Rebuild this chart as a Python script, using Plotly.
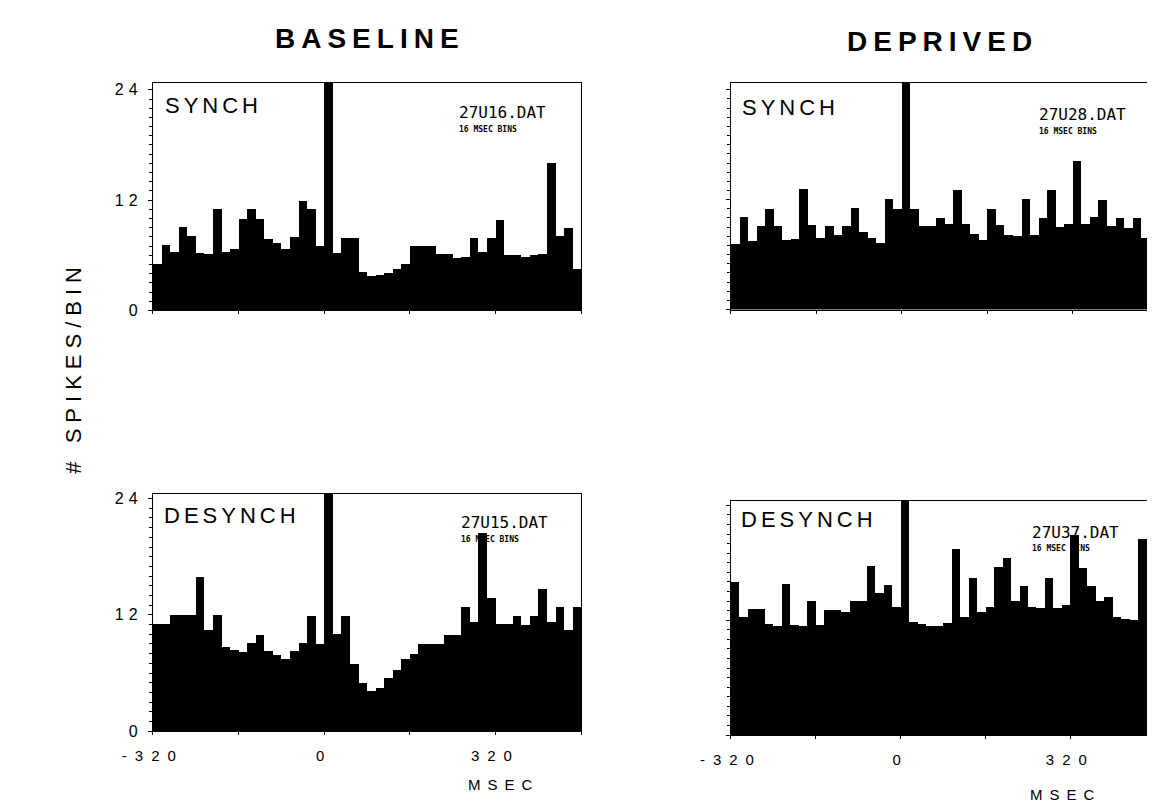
import plotly.graph_objects as go

# ---------------- data ----------------
BIN_WIDTH_MS = 16
BIN_CENTERS_MS = list(range(-312, 480, 16))   # 50 bins of 16 ms, -320 .. 480 ms

BASELINE_SYNCH = [5.1, 7.1, 6.4, 9.1, 8.1, 6.3, 6.2, 11.1, 6.4, 6.7,
                  10.0, 11.0, 10.0, 7.8, 7.3, 6.7, 8.0, 11.9, 11.0, 7.0,
                  30.0, 6.3, 7.9, 7.9, 4.2, 3.8, 3.9, 4.1, 4.5, 5.1,
                  7.0, 7.0, 7.0, 6.1, 6.1, 5.7, 5.8, 7.9, 6.4, 7.9,
                  9.9, 6.0, 6.0, 5.8, 6.0, 6.1, 16.0, 8.1, 9.0, 4.5]

BASELINE_DESYNCH = [11.1, 11.1, 12.0, 12.0, 12.0, 15.9, 10.5, 12.0, 8.7, 8.4,
                    8.2, 9.1, 10.0, 8.3, 7.9, 7.5, 8.3, 9.1, 11.9, 9.0,
                    30.0, 10.1, 11.9, 7.0, 5.0, 4.2, 4.5, 5.5, 6.3, 7.5,
                    8.0, 9.0, 9.0, 9.0, 10.0, 10.0, 12.8, 11.3, 20.5, 13.8,
                    11.1, 11.1, 11.9, 11.0, 11.9, 14.7, 11.3, 12.8, 10.5, 12.8]

DEPRIVED_SYNCH = [7.2, 10.1, 7.5, 9.1, 11.0, 9.1, 7.6, 7.7, 13.2, 9.2,
                  7.8, 9.1, 8.2, 9.1, 11.1, 8.5, 7.8, 7.3, 12.1, 11.0,
                  30.0, 11.0, 9.1, 9.1, 10.0, 9.4, 13.1, 9.3, 8.3, 7.6,
                  11.0, 9.2, 8.2, 8.0, 12.1, 8.2, 10.0, 13.1, 9.0, 9.3,
                  16.2, 9.4, 10.1, 12.0, 9.1, 10.0, 8.9, 10.0, 7.8, 8.2]

DEPRIVED_DESYNCH = [16.0, 12.4, 13.2, 13.2, 11.7, 11.4, 15.8, 11.5, 11.4, 14.1,
                    11.5, 13.1, 13.1, 12.9, 14.0, 14.0, 17.7, 14.9, 15.7, 13.4,
                    30.0, 11.9, 11.7, 11.4, 11.4, 11.8, 19.5, 12.4, 16.5, 12.9,
                    13.4, 17.6, 18.5, 14.0, 15.6, 13.4, 13.3, 16.5, 13.3, 13.6,
                    21.0, 17.5, 15.6, 14.0, 14.5, 12.4, 12.2, 12.1, 20.5, 16.5]

X_TICK_VALUES = [-320, -160, 0, 160, 320, 480]
X_TICK_LABELS = ["-320", "", "0", "", "320", ""]
Y_TICK_VALUES = [0, 12, 24]
Y_TICK_LABELS = ["0", "12", "24"]

COLUMN_TITLES = ["BASELINE", "DEPRIVED"]
PANEL_LABELS = ["SYNCH", "SYNCH", "DESYNCH", "DESYNCH"]
FILE_LABELS = ["27U16.DAT", "27U28.DAT", "27U15.DAT", "27U37.DAT"]
BIN_NOTE = "16 MSEC BINS"
X_TITLE = "MSEC"
Y_TITLE = "# SPIKES/BIN"

# ---------------- layout helpers ----------------
W, H = 1155, 810
SANS = "Liberation Sans, Arial, sans-serif"
MONO = "DejaVu Sans Mono, monospace"


def px(x):
    return x / W


def py(y):
    return 1 - y / H


def spaced(text, sp):
    return f'<span style="letter-spacing:{sp}px">{text}</span>'


# panel boxes in pixels: (left, right, top, bottom, ymax)
PANELS = [
    (117, 557, 73, 304, 24.75),   # baseline synch
    (711, 1150, 73, 303, 24.75),  # deprived synch
    (117, 557, 490, 731, 24.5),   # baseline desynch
    (711, 1147, 497, 735, 24.5),  # deprived desynch
]
SERIES = [BASELINE_SYNCH, DEPRIVED_SYNCH, BASELINE_DESYNCH, DEPRIVED_DESYNCH]

fig = go.Figure()
layout = dict(
    width=W, height=H,
    margin=dict(l=0, r=0, t=0, b=0),
    paper_bgcolor="white", plot_bgcolor="white",
    showlegend=False, bargap=0,
    font=dict(family=SANS, color="black"),
)

for i, (vals, (l, r, t, b, ymax)) in enumerate(zip(SERIES, PANELS)):
    n = "" if i == 0 else str(i + 1)
    fig.add_trace(go.Bar(
        x=BIN_CENTERS_MS, y=vals, width=BIN_WIDTH_MS,
        marker=dict(color="black", line=dict(width=0)),
        xaxis="x" + n, yaxis="y" + n, hoverinfo="x+y",
    ))
    left_col = (i % 2 == 0)
    bottom_row = (i >= 2)
    layout["xaxis" + n] = dict(
        domain=[px(l), px(r)], anchor="y" + n, range=[-320, 480],
        showline=True, linecolor="black", linewidth=1, mirror=True,
        showgrid=False, zeroline=False,
        tickmode="array", tickvals=X_TICK_VALUES,
        ticktext=[spaced(s, 8) if s else "" for s in X_TICK_LABELS],
        showticklabels=bottom_row,
        ticks="outside", ticklen=3, tickcolor="black", tickwidth=1,
        tickfont=dict(family=SANS, size=15, color="black"),
        ticklabelstandoff=8,
    )
    layout["yaxis" + n] = dict(
        domain=[py(b), py(t)], anchor="x" + n, range=[0, ymax],
        showline=True, linecolor="black", linewidth=1, mirror=True,
        showgrid=False, zeroline=False,
        tickmode="array", tickvals=Y_TICK_VALUES,
        ticktext=[spaced(s, 5) for s in Y_TICK_LABELS],
        showticklabels=left_col,
        ticks="outside", ticklen=4, tickcolor="black", tickwidth=1,
        minor=dict(dtick=1, tick0=0, ticks="outside", ticklen=3,
                   tickcolor="black", tickwidth=1, showgrid=False),
        tickfont=dict(family=SANS, size=16, color="black"),
        ticklabelstandoff=2,
    )

fig.update_layout(**layout)

ann = []
# column titles
for title, xc, yc in zip(COLUMN_TITLES, [340, 928], [28, 31]):
    ann.append(dict(text="<b>" + spaced(title, 6) + "</b>", x=px(xc), y=py(yc),
                    xref="paper", yref="paper",
                    showarrow=False, xanchor="center", yanchor="middle",
                    font=dict(family=SANS, size=28, color="black")))

# panel labels, file names, bin notes
label_pos = [(127, 96), (720, 98), (126, 512), (719, 516)]
file_pos = [(430, 103), (1026, 105), (432, 519), (1018, 529)]
for lab, (lx, ly), fname, (fx, fy) in zip(PANEL_LABELS, label_pos, FILE_LABELS, file_pos):
    ann.append(dict(text=spaced(lab, 4), x=px(lx), y=py(ly), xref="paper", yref="paper",
                    showarrow=False, xanchor="left", yanchor="middle",
                    font=dict(family=SANS, size=22, color="black")))
    ann.append(dict(text=fname, x=px(fx), y=py(fy), xref="paper", yref="paper",
                    showarrow=False, xanchor="left", yanchor="middle",
                    font=dict(family=MONO, size=16, color="black")))
    ann.append(dict(text="<b>" + BIN_NOTE + "</b>", x=px(fx), y=py(fy + 17), xref="paper", yref="paper",
                    showarrow=False, xanchor="left", yanchor="middle",
                    font=dict(family=MONO, size=8, color="black")))

# axis titles
for xc, yc in [(477, 785), (1055, 795)]:
    ann.append(dict(text=spaced(X_TITLE, 7), x=px(xc), y=py(yc), xref="paper", yref="paper",
                    showarrow=False, xanchor="center", yanchor="middle",
                    font=dict(family=SANS, size=15, color="black")))
ann.append(dict(text=spaced(Y_TITLE, 6), x=px(36), y=py(362), xref="paper", yref="paper",
                showarrow=False, xanchor="center", yanchor="middle", textangle=-90,
                font=dict(family=SANS, size=22, color="black")))

fig.update_layout(annotations=ann)
fig.write_html("out.html")
